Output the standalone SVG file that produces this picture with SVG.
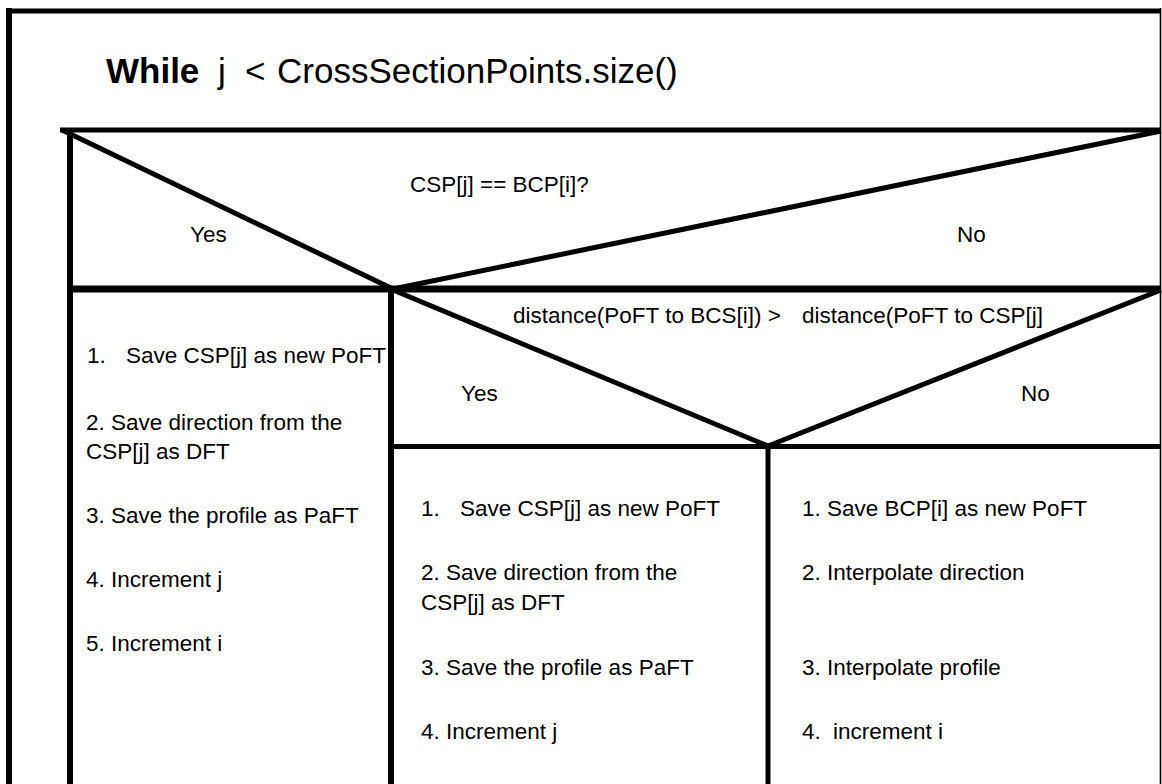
<svg xmlns="http://www.w3.org/2000/svg" width="1162" height="784" viewBox="0 0 1162 784">
<style>
  .t { font-family: "Liberation Sans", Arial, sans-serif; font-size: 22.5px; fill: #000; }
  .title { font-family: "Liberation Sans", Arial, sans-serif; font-size: 35px; fill: #000; }
  .b { font-weight: bold; }
  .ln { stroke: #000; stroke-linecap: butt; fill: none; }
  .w5 { stroke-width: 5; }
  .w6 { stroke-width: 6; }
  .w7 { stroke-width: 7; }
</style>
<rect x="0" y="0" width="1162" height="784" fill="#fff"/>

<g id="connectors">
  <!-- outer frame -->
  <line class="ln w5" x1="6" y1="11" x2="1161" y2="11"/>
  <line class="ln w6" x1="9" y1="8" x2="9" y2="784"/>
  <line class="ln" stroke-width="1.6" x1="1160.5" y1="8" x2="1160.5" y2="784"/>
  <!-- first decision -->
  <line class="ln w5" x1="60" y1="130" x2="1161" y2="130"/>
  <line class="ln w6" x1="70" y1="130" x2="70" y2="784"/>
  <line class="ln w5" x1="62" y1="130" x2="393" y2="289"/>
  <line class="ln w5" x1="393" y1="289" x2="1161" y2="131"/>
  <line class="ln w7" x1="67" y1="289" x2="1161" y2="289"/>
  <line class="ln w6" x1="391" y1="289" x2="391" y2="784"/>
  <!-- second decision -->
  <line class="ln w5" x1="393" y1="290" x2="768" y2="446"/>
  <line class="ln w5" x1="768" y1="446" x2="1161" y2="290"/>
  <line class="ln w5" x1="389" y1="446.5" x2="1161" y2="446.5"/>
  <line class="ln w5" x1="768" y1="446" x2="768" y2="784"/>
</g>

<g id="loop-header">
  <text class="title" y="83"><tspan class="b" x="106">While</tspan><tspan x="218">j</tspan><tspan x="245">&lt;</tspan><tspan x="277">CrossSectionPoints.size()</tspan></text>
</g>

<g id="decision-1">
  <text class="t" x="410" y="192">CSP[j] == BCP[i]?</text>
  <text class="t" x="190" y="242">Yes</text>
  <text class="t" x="957" y="242">No</text>
</g>

<g id="yes-branch-1">
  <text class="t" y="363"><tspan x="87">1.</tspan><tspan x="126">Save CSP[j] as new PoFT</tspan></text>
  <text class="t" x="86" y="430">2. Save direction from the</text>
  <text class="t" x="86" y="459">CSP[j] as DFT</text>
  <text class="t" x="86" y="523">3. Save the profile as PaFT</text>
  <text class="t" x="86" y="587">4. Increment j</text>
  <text class="t" x="86" y="651">5. Increment i</text>
</g>

<g id="decision-2">
  <text class="t" y="323"><tspan x="513">distance(PoFT to BCS[i]) &gt;</tspan><tspan x="802">distance(PoFT to CSP[j]</tspan></text>
  <text class="t" x="461" y="401">Yes</text>
  <text class="t" x="1021" y="401">No</text>
</g>

<g id="yes-branch-2">
  <text class="t" y="516"><tspan x="421">1.</tspan><tspan x="460">Save CSP[j] as new PoFT</tspan></text>
  <text class="t" x="421" y="580">2. Save direction from the</text>
  <text class="t" x="421" y="610">CSP[j] as DFT</text>
  <text class="t" x="421" y="675">3. Save the profile as PaFT</text>
  <text class="t" x="421" y="739">4. Increment j</text>
</g>

<g id="no-branch-2">
  <text class="t" x="802" y="516">1. Save BCP[i] as new PoFT</text>
  <text class="t" x="802" y="580">2. Interpolate direction</text>
  <text class="t" x="802" y="675">3. Interpolate profile</text>
  <text class="t" y="739"><tspan x="802">4.</tspan><tspan x="833">increment i</tspan></text>
</g>
</svg>
